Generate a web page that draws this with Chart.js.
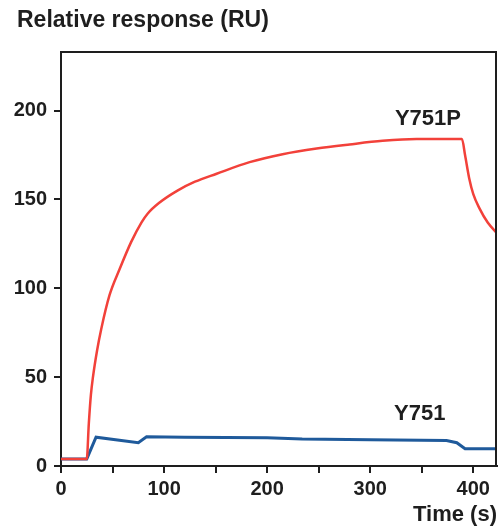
<!DOCTYPE html>
<html>
<head>
<meta charset="utf-8">
<script src="https://cdn.jsdelivr.net/npm/chart.js@4/dist/chart.umd.min.js"></script>
<style>
  html, body { margin: 0; padding: 0; background: #fff; }
  canvas { display: block; }
</style>
</head>
<body>
<canvas id="sprChart" width="499" height="528"></canvas>
<script>
// binding curves, time in seconds vs response units
var timeY751P = [0, 25, 27, 29, 31, 35, 39, 47, 57, 68, 78, 84, 95, 113, 130, 151, 183, 215, 248, 280, 312, 345, 389, 392, 396, 400, 406, 414, 423];
var respY751P = [4, 4, 24, 40, 50, 65, 77, 96, 111, 126, 137, 142, 148, 155, 160, 164.5, 171, 175.5, 178.7, 181, 183, 184, 184, 175, 162, 153, 145, 137, 131];

var timeY751 = [0, 25, 34, 75, 83, 120, 200, 234, 300, 374, 384, 392, 423];
var respY751 = [4, 4, 16.2, 13.1, 16.4, 16.2, 15.9, 15.2, 14.8, 14.4, 13.1, 9.7, 9.7];

var xTicks = [0, 50, 100, 150, 200, 250, 300, 350, 400];
var yTicks = [0, 50, 100, 150, 200];

var FONT = '"Liberation Sans", Arial, sans-serif';

function pts(xs, ys) {
  return xs.map(function (x, i) { return { x: x, y: ys[i] }; });
}

// frame on top/right plus the free text labels
var decor = {
  id: 'decor',
  afterDraw: function (chart) {
    var ctx = chart.ctx, a = chart.chartArea;
    var xs = chart.scales.x, ys = chart.scales.y;
    ctx.save();
    ctx.strokeStyle = '#1e1e1e';
    ctx.lineWidth = 2;
    ctx.beginPath();
    ctx.moveTo(a.left, a.top);
    ctx.lineTo(a.right - 1, a.top);
    ctx.lineTo(a.right - 1, a.bottom);
    ctx.stroke();

    ctx.fillStyle = '#1e1e1e';
    ctx.font = 'bold 23px ' + FONT;
    ctx.textBaseline = 'alphabetic';
    ctx.textAlign = 'left';
    ctx.fillText('Relative response (RU)', 17, 27);
    ctx.font = 'bold 22px ' + FONT;
    ctx.textAlign = 'right';
    ctx.fillText('Time (s)', 497, 521);

    ctx.font = 'bold 22px ' + FONT;
    ctx.textAlign = 'center';
    ctx.fillText('Y751P', xs.getPixelForValue(356), ys.getPixelForValue(192));
    ctx.fillText('Y751', xs.getPixelForValue(348), ys.getPixelForValue(26));
    ctx.restore();
  }
};

new Chart(document.getElementById('sprChart'), {
  type: 'line',
  data: {
    datasets: [
      {
        label: 'Y751P',
        data: pts(timeY751P, respY751P),
        borderColor: '#f2413a',
        borderWidth: 2.5,
        pointRadius: 0,
        cubicInterpolationMode: 'monotone'
      },
      {
        label: 'Y751',
        data: pts(timeY751, respY751),
        borderColor: '#1f5a9b',
        borderWidth: 3,
        pointRadius: 0,
        tension: 0
      }
    ]
  },
  options: {
    responsive: false,
    animation: false,
    layout: { padding: { top: 52, right: 2, bottom: 22, left: 0 } },
    plugins: { legend: { display: false }, tooltip: { enabled: false } },
    scales: {
      x: {
        type: 'linear',
        min: 0,
        max: 423,
        afterBuildTicks: function (s) { s.ticks = xTicks.map(function (v) { return { value: v }; }); },
        afterFit: function (s) { s.height = 40; },
        border: { color: '#1e1e1e', width: 2 },
        grid: { drawOnChartArea: false, color: '#1e1e1e', lineWidth: 2, tickLength: 7 },
        ticks: {
          autoSkip: false,
          maxRotation: 0,
          padding: 4,
          color: '#1e1e1e',
          font: { family: FONT, size: 20, weight: 'bold' },
          callback: function (v) { return v % 100 === 0 ? String(v) : ''; }
        }
      },
      y: {
        min: 0,
        max: 233,
        afterBuildTicks: function (s) { s.ticks = yTicks.map(function (v) { return { value: v }; }); },
        afterFit: function (s) { s.width = 61; },
        border: { color: '#1e1e1e', width: 2 },
        grid: { drawOnChartArea: false, color: '#1e1e1e', lineWidth: 2, tickLength: 7 },
        ticks: {
          padding: 7,
          color: '#1e1e1e',
          font: { family: FONT, size: 20, weight: 'bold' }
        }
      }
    }
  },
  plugins: [decor]
});
</script>
</body>
</html>
